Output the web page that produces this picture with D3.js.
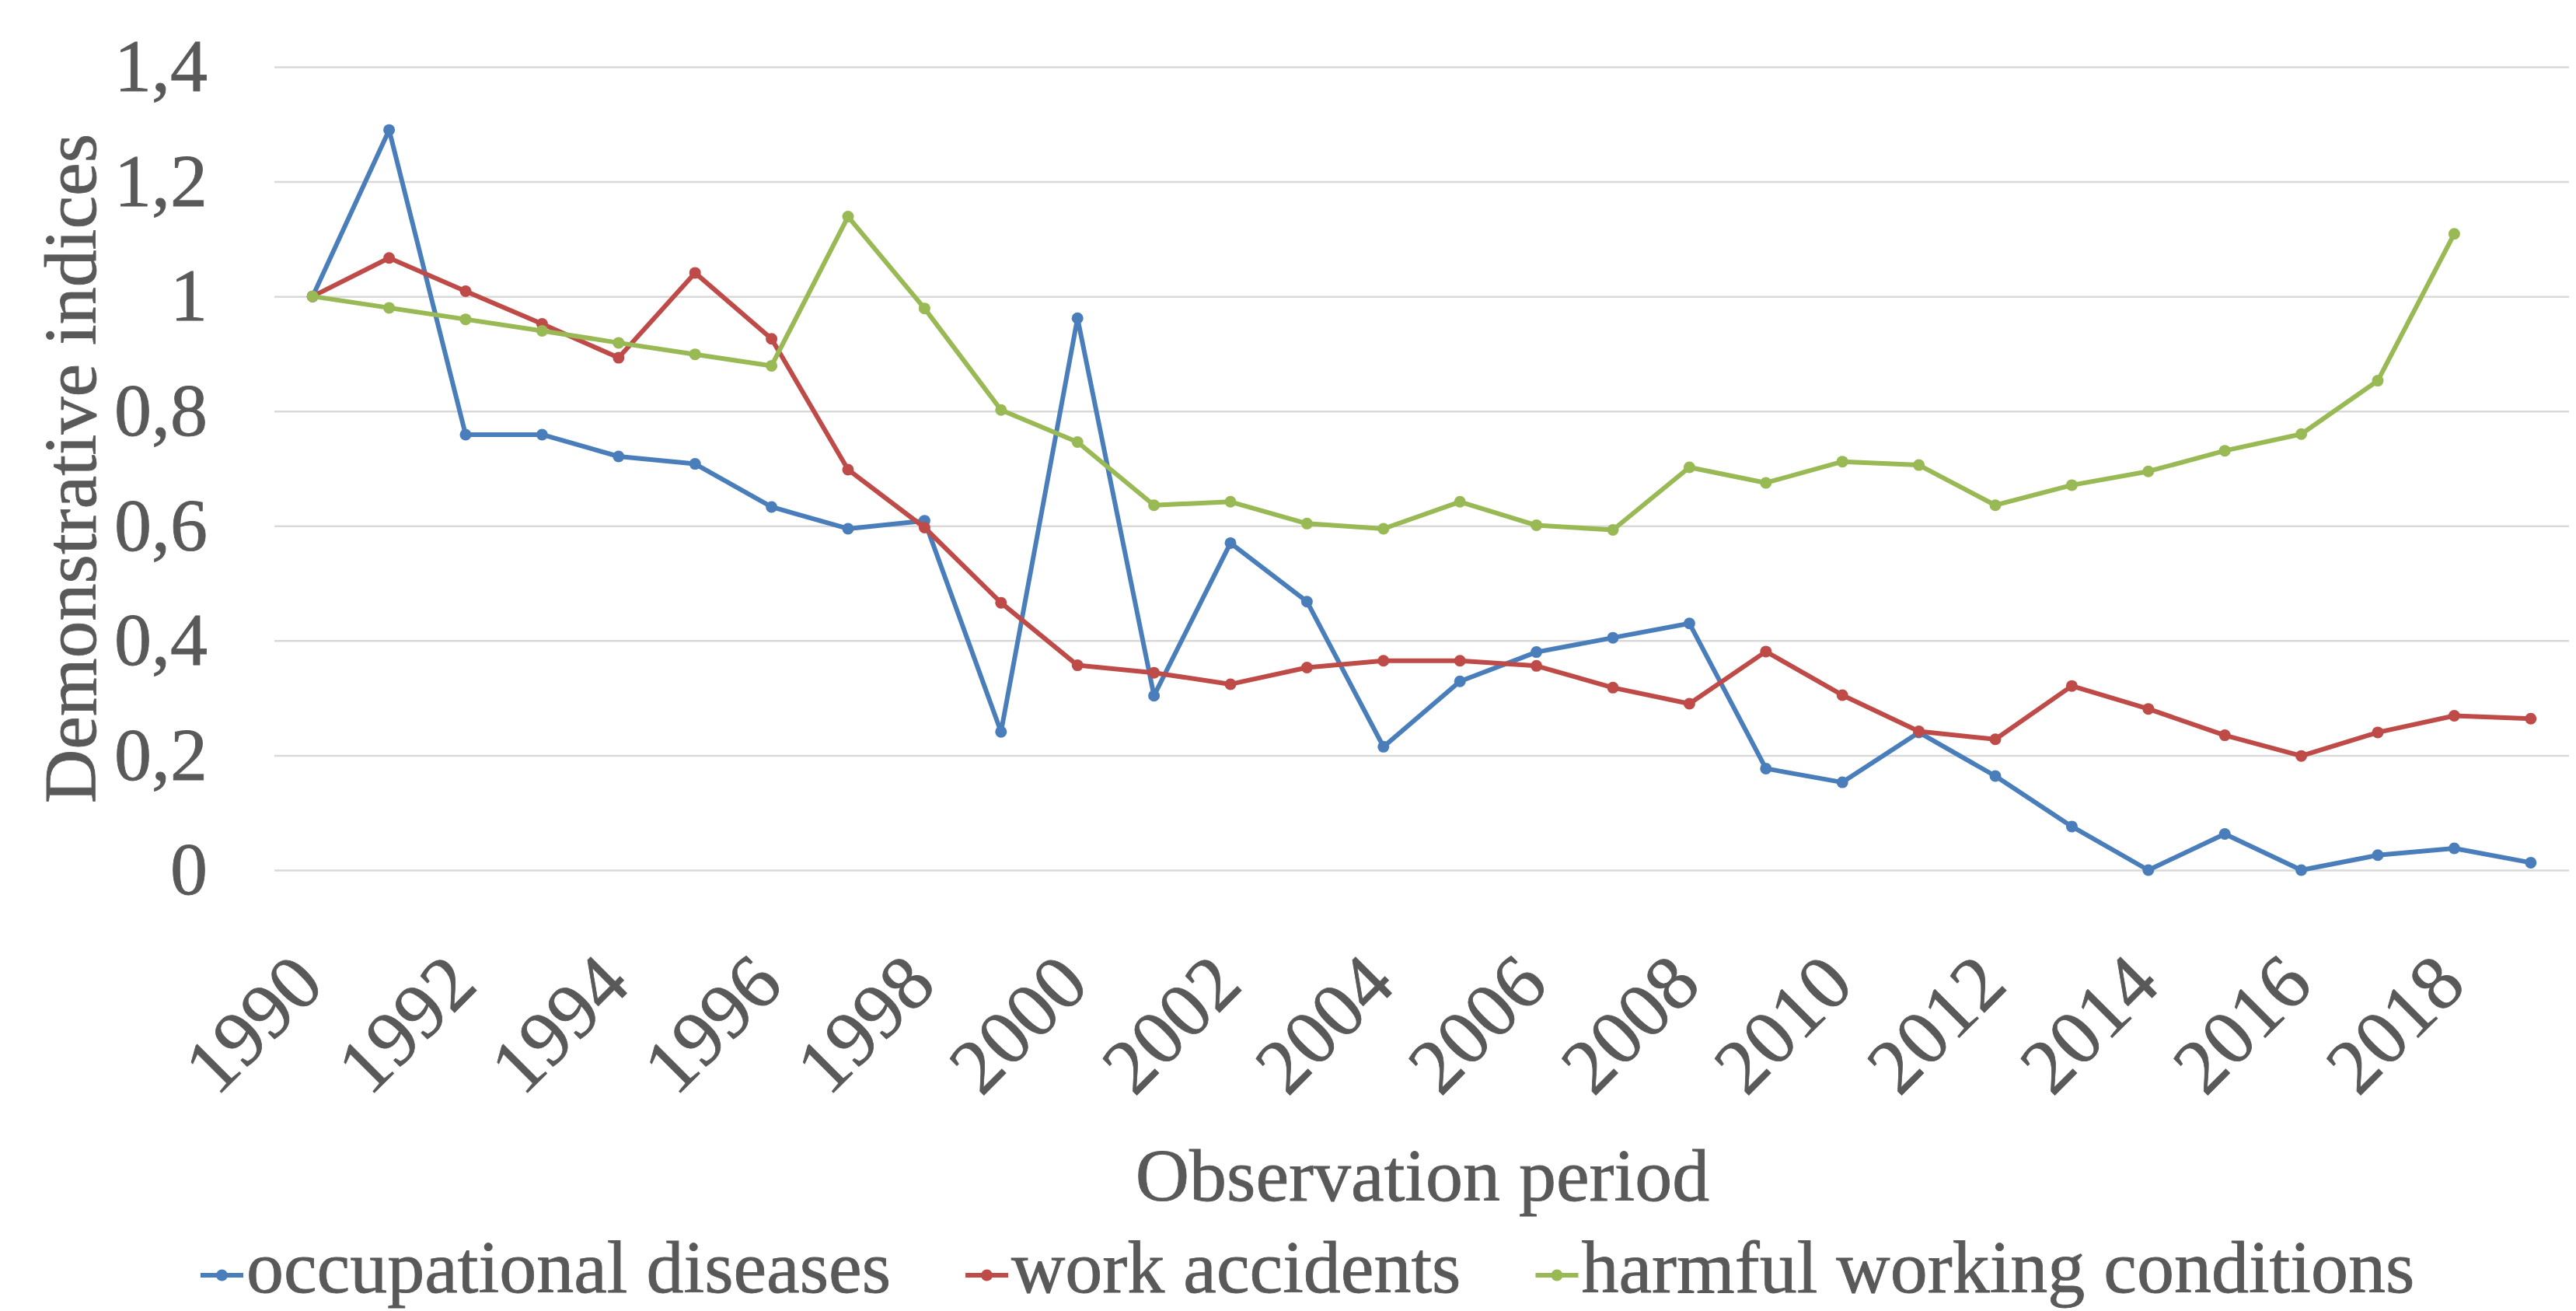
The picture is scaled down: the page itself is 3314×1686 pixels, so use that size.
<!DOCTYPE html>
<html>
<head>
<meta charset="utf-8">
<script src="https://cdn.jsdelivr.net/npm/d3@7"></script>
<style>
  html, body { margin: 0; padding: 0; background: #ffffff; }
  svg { display: block; }
  text { font-family: "Liberation Serif", "Times New Roman", serif; fill: #595959; stroke: #595959; stroke-width: 0.8px; }
</style>
</head>
<body>
<svg id="chart" width="3314" height="1686"></svg>
<script>
// ---- data ----
const years = [1990,1991,1992,1993,1994,1995,1996,1997,1998,1999,
               2000,2001,2002,2003,2004,2005,2006,2007,2008,2009,
               2010,2011,2012,2013,2014,2015,2016,2017,2018,2019];
const yearLabels = [1990,1992,1994,1996,1998,2000,2002,2004,2006,2008,2010,2012,2014,2016,2018];
const occupationalDiseases = [1.0,1.29,0.759,0.759,0.721,0.708,0.633,0.595,0.609,0.241,
                              0.962,0.304,0.570,0.468,0.215,0.329,0.380,0.405,0.430,0.177,
                              0.153,0.240,0.164,0.076,0.0,0.063,0.0,0.026,0.038,0.013];
const workAccidents = [1.0,1.067,1.009,0.952,0.893,1.041,0.926,0.698,0.597,0.466,
                       0.357,0.344,0.324,0.353,0.365,0.365,0.356,0.318,0.290,0.381,
                       0.305,0.242,0.228,0.321,0.281,0.235,0.199,0.240,0.269,0.264];
const harmfulConditions = [1.0,0.980,0.960,0.940,0.919,0.899,0.879,1.139,0.979,0.802,
                           0.746,0.636,0.642,0.604,0.595,0.642,0.601,0.593,0.702,0.675,
                           0.712,0.706,0.636,0.671,0.695,0.731,0.760,0.853,1.109,null];
const yTicks = [0,0.2,0.4,0.6,0.8,1.0,1.2,1.4];
const yTickLabels = ["0","0,2","0,4","0,6","0,8","1","1,2","1,4"];
const seriesNames = ["occupational diseases","work accidents","harmful working conditions"];
const seriesColors = ["#4a7ebb","#be4b48","#98b954"];
const xTitle = "Observation period";
const yTitle = "Demonstrative indices";

const seriesValues = [occupationalDiseases, workAccidents, harmfulConditions];

// ---- layout ----
const svg = d3.select("#chart");
const plotLeft = 353, plotRight = 3305, plotTop = 86, plotBottom = 1119;

const x = d3.scaleBand().domain(years).range([plotLeft, plotRight]).paddingInner(0).paddingOuter(0);
const y = d3.scaleLinear().domain([0, 1.4]).range([plotBottom, plotTop]);
const cx = d => x(d) + x.bandwidth() / 2;

// gridlines + y labels
const yAxis = d3.axisLeft(y)
  .tickValues(yTicks)
  .tickFormat((d, i) => yTickLabels[i])
  .tickSize(-(plotRight - plotLeft))
  .tickPadding(86);
const gy = svg.append("g").attr("transform", `translate(${plotLeft},0)`).call(yAxis);
gy.select(".domain").remove();
gy.selectAll(".tick line").attr("stroke", "#d9d9d9").attr("stroke-width", 2.5);
gy.selectAll(".tick text")
  .attr("font-size", 96)
  .attr("font-family", "Liberation Serif")
  .attr("fill", "#595959")
  .attr("dy", "0.32em");

// x labels
const xAxis = d3.axisBottom(x).tickValues(yearLabels).tickSize(0);
const gx = svg.append("g").attr("transform", `translate(0,${plotBottom})`).call(xAxis);
gx.select(".domain").remove();
gx.selectAll(".tick text")
  .attr("font-size", 100)
  .attr("font-family", "Liberation Serif")
  .attr("fill", "#595959")
  .attr("x", 0).attr("y", 0).attr("dy", 0)
  .attr("text-anchor", "end")
  .attr("transform", "translate(18,151) rotate(-45)");

// lines
const line = d3.line()
  .defined(d => d.v !== null)
  .x(d => cx(d.year))
  .y(d => y(d.v));

seriesValues.forEach((vals, si) => {
  const pts = years.map((yr, i) => ({ year: yr, v: vals[i] }));
  const g = svg.append("g");
  g.append("path")
    .datum(pts)
    .attr("fill", "none")
    .attr("stroke", seriesColors[si])
    .attr("stroke-width", 6)
    .attr("stroke-linejoin", "round")
    .attr("d", line);
  g.selectAll("circle")
    .data(pts.filter(d => d.v !== null))
    .join("circle")
    .attr("cx", d => cx(d.year))
    .attr("cy", d => y(d.v))
    .attr("r", 7.5)
    .attr("fill", seriesColors[si]);
});

// axis titles
svg.append("text")
  .attr("x", (plotLeft + plotRight) / 2 + 1)
  .attr("y", 1544)
  .attr("text-anchor", "middle")
  .attr("font-size", 96)
  .text(xTitle);

svg.append("text")
  .attr("transform", `translate(123,${(plotTop + plotBottom) / 2}) rotate(-90)`)
  .attr("text-anchor", "middle")
  .attr("font-size", 96)
  .text(yTitle);

// legend
const legendBaseline = 1662, markerY = 1640, lineLen = 55, textGap = 4, itemGap = 96;
let lx = 258;
seriesNames.forEach((name, si) => {
  const g = svg.append("g");
  g.append("line")
    .attr("x1", lx).attr("x2", lx + lineLen)
    .attr("y1", markerY).attr("y2", markerY)
    .attr("stroke", seriesColors[si]).attr("stroke-width", 6);
  g.append("circle")
    .attr("cx", lx + lineLen / 2).attr("cy", markerY).attr("r", 7.5)
    .attr("fill", seriesColors[si]);
  const t = g.append("text")
    .attr("x", lx + lineLen + textGap)
    .attr("y", legendBaseline)
    .attr("font-size", 96)
    .text(name);
  lx = lx + lineLen + textGap + t.node().getComputedTextLength() + itemGap;
});
</script>
</body>
</html>
